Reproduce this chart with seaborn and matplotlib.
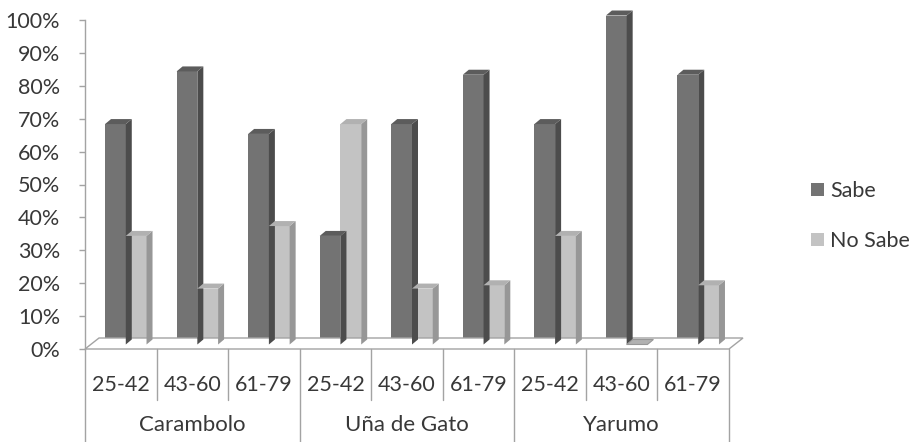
import matplotlib
matplotlib.use("Agg")
import matplotlib.pyplot as plt
import pandas as pd
import seaborn as sns
from matplotlib.patches import Polygon
from matplotlib.lines import Line2D
from matplotlib.transforms import ScaledTranslation, IdentityTransform, blended_transform_factory

# Survey results: share of respondents per locality and age band
groups = ["Carambolo", "Uña de Gato", "Yarumo"]
ages = ["25-42", "43-60", "61-79"]
series = ["Sabe", "No Sabe"]
sabe = [67, 83, 64, 33, 67, 82, 67, 100, 82]
no_sabe = [33, 17, 36, 67, 17, 18, 33, 0, 18]
y_ticks = [0, 10, 20, 30, 40, 50, 60, 70, 80, 90, 100]
y_tick_labels = [f"{t}%" for t in y_ticks]

slots = [f"{g} {a}" for g in groups for a in ages]
df = pd.DataFrame({
    "slot": slots * 2,
    "serie": [series[0]] * len(slots) + [series[1]] * len(slots),
    "pct": [v / 100 for v in sabe] + [v / 100 for v in no_sabe],
})

front = {"Sabe": "#737373", "No Sabe": "#c3c3c3"}
side = {"Sabe": "#4c4c4c", "No Sabe": "#979797"}
top = {"Sabe": "#5c5c5c", "No Sabe": "#b1b1b1"}
line_col = "#a3a3a3"
text_col = "#383838"

sns.set_theme(style="white")
plt.rcParams["font.family"] = ["Lato", "DejaVu Sans"]

W, H = 916, 442
DPI = 100
fig = plt.figure(figsize=(W / DPI, H / DPI), dpi=DPI)
x_left, x_right, y_zero, y_full = 85, 729, 349, 20
ax = fig.add_axes([x_left / W, (H - y_zero) / H, (x_right - x_left) / W, (y_zero - y_full) / H])

sns.barplot(data=df, x="slot", y="pct", hue="serie", order=slots, hue_order=series,
            palette=front, width=0.58, saturation=1, linewidth=0, ax=ax)
ax.set_xlim(-0.5, len(slots) - 0.5)
ax.set_ylim(0, 1)

# pseudo-3D: floor, bar side faces and bar tops
fdx, fdy = 14, 11      # floor depth in pixels
ox, oy = 5, 4.5        # bars sit half-way into the floor
bdx, bdy = 6, 5        # bar depth

(fl_x0, fl_y0), (fl_x1, _) = ax.transData.transform([(-0.5, 0), (len(slots) - 0.5, 0)])
floor = Polygon([(fl_x0, fl_y0), (fl_x1, fl_y0), (fl_x1 + fdx, fl_y0 + fdy), (fl_x0 + fdx, fl_y0 + fdy)],
                closed=True, facecolor="white", edgecolor=line_col, linewidth=1.0,
                transform=IdentityTransform(), zorder=1, clip_on=False)
fig.add_artist(floor)

shift = ScaledTranslation(ox / DPI, oy / DPI, fig.dpi_scale_trans)
n = len(slots)
bars = list(ax.containers[0]) + list(ax.containers[1])
for k, patch in enumerate(bars):
    name = series[k // n]
    z = 3 if name == "Sabe" else 4
    x0, w, h = patch.get_x(), patch.get_width(), patch.get_height()
    (xa, ya), (xb, yb) = ax.transData.transform([(x0, 0), (x0 + w, h)])
    xa, xb, ya, yb = xa + ox, xb + ox, ya + oy, yb + oy
    patch.set_transform(ax.transData + shift)
    patch.set_zorder(z)
    patch.set_clip_on(False)
    s = Polygon([(xb, ya), (xb + bdx, ya + bdy), (xb + bdx, yb + bdy), (xb, yb)], closed=True,
                facecolor=side[name], edgecolor="none", transform=IdentityTransform(), zorder=z)
    t = Polygon([(xa, yb), (xb, yb), (xb + bdx, yb + bdy), (xa + bdx, yb + bdy)], closed=True,
                facecolor=top[name], edgecolor=side[name] if h == 0 else "none", linewidth=0.8,
                transform=IdentityTransform(), zorder=z)
    fig.add_artist(s)
    fig.add_artist(t)

# axes styling
for sp in ["top", "right", "bottom"]:
    ax.spines[sp].set_visible(False)
ax.spines["left"].set_color(line_col)
ax.spines["left"].set_linewidth(1.0)
ax.set_yticks([t / 100 for t in y_ticks])
ax.set_yticklabels(y_tick_labels)
ax.tick_params(axis="y", direction="out", length=4, width=1, color=line_col, pad=14,
               labelsize=15.5, labelcolor=text_col, left=True)
ax.set_xticks(range(n))
ax.set_xticklabels(ages * len(groups))
ax.tick_params(axis="x", length=0, pad=19, labelsize=15.5, labelcolor=text_col)
ax.set_xlabel("")
ax.set_ylabel("")
ax.patch.set_alpha(0)

# two-level category axis: separators and locality names
btf = blended_transform_factory(ax.transData, fig.transFigure)
for i in range(n + 1):
    xb = i - 0.5
    y_end = 0 if i % len(ages) == 0 else (H - 400) / H
    fig.add_artist(Line2D([xb, xb], [(H - y_zero) / H, y_end], transform=btf,
                          color=line_col, linewidth=1.0))
for gi, g in enumerate(groups):
    fig.text(gi * len(ages) + 1, (H - 425) / H, g, transform=btf, ha="center", va="center",
             fontsize=16, color=text_col)

handles, labels = ax.get_legend_handles_labels()
ax.legend(handles, labels, loc="center left", bbox_to_anchor=(811 / W, 1 - 216 / H),
          bbox_transform=fig.transFigure, frameon=False, borderpad=0, borderaxespad=0,
          handlelength=0.6, handleheight=0.6, handletextpad=0.3, labelspacing=1.4,
          fontsize=15.5, labelcolor=text_col)

fig.savefig("out.png", dpi=DPI)
